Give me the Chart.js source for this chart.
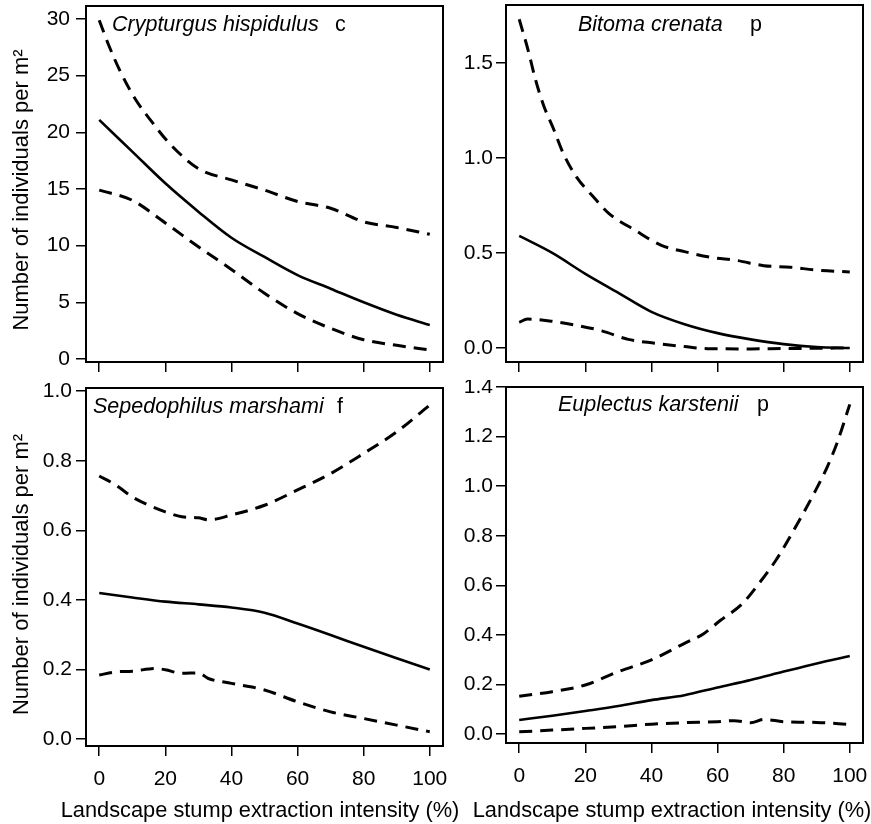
<!DOCTYPE html>
<html>
<head>
<meta charset="utf-8">
<script src="https://cdn.jsdelivr.net/npm/chart.js@4.4.1/dist/chart.umd.min.js"></script>
<style>
  html, body { margin: 0; padding: 0; background: #fff; }
  #wrap { position: relative; width: 871px; height: 824px; }
  canvas { position: absolute; }
</style>
</head>
<body>
<div id="wrap">
  <canvas id="cTL" width="450" height="380" style="left:0;top:0"></canvas>
  <canvas id="cTR" width="421" height="380" style="left:450px;top:0"></canvas>
  <canvas id="cBR" width="421" height="444" style="left:450px;top:380px"></canvas>
  <canvas id="cBL" width="462" height="444" style="left:0;top:380px"></canvas>
</div>
<script>
const xTicks = [0, 20, 40, 60, 80, 100];
const xTitle = "Landscape stump extraction intensity (%)";
const yTitle = "Number of individuals per m\u00B2";

// Crypturgus hispidulus
const crypX = [0, 10, 20, 30, 40, 50, 60, 70, 80, 90, 100];
const crypFit = [21.1, 18.3, 15.5, 13.0, 10.7, 9.0, 7.4, 6.2, 5.0, 3.9, 3.0];
const crypUpX = [0, 3, 6.5, 11, 16, 21, 30, 40, 50, 60, 70, 80, 90, 100];
const crypUp = [29.9, 27.6, 25.3, 22.9, 20.9, 19.1, 16.8, 15.8, 14.9, 13.9, 13.3, 12.1, 11.6, 11.0];
const crypLoX = [0, 10, 20, 30, 40, 50, 60, 70, 80, 90, 100];
const crypLo = [14.9, 14.0, 12.0, 9.9, 7.9, 5.8, 4.0, 2.7, 1.7, 1.2, 0.8];
const crypTicks = [0, 5, 10, 15, 20, 25, 30];

// Bitoma crenata
const bitoX = [0, 10, 20, 30, 40, 50, 60, 70, 80, 90, 100];
const bitoFit = [0.59, 0.5, 0.39, 0.29, 0.19, 0.125, 0.078, 0.045, 0.02, 0.005, 0.0];
const bitoUpX = [0, 2.8, 4.8, 7.3, 10.3, 13.3, 17.3, 22.2, 27, 35, 43, 50, 58, 66, 74, 82, 90, 100];
const bitoUp = [1.73, 1.56, 1.42, 1.28, 1.156, 1.025, 0.9, 0.8, 0.71, 0.62, 0.54, 0.507, 0.477, 0.46, 0.433, 0.425, 0.41, 0.4];
const bitoLoX = [0, 2.5, 10, 17, 25, 33, 41, 50, 57, 70, 80, 90, 100];
const bitoLo = [0.135, 0.152, 0.14, 0.12, 0.09, 0.045, 0.025, 0.007, -0.004, -0.005, -0.003, -0.002, 0.0];
const bitoTicks = [0, 0.5, 1.0, 1.5];

// Sepedophilus marshami
const sepeX = [0, 10, 20, 30, 40, 50, 60, 70, 80, 90, 100];
const sepeFit = [0.42, 0.407, 0.395, 0.387, 0.378, 0.363, 0.332, 0.299, 0.265, 0.232, 0.2];
const sepeUpX = [0, 5, 10, 15, 20, 25, 30, 33, 40, 50, 60, 70, 80, 90, 100];
const sepeUp = [0.756, 0.73, 0.696, 0.672, 0.653, 0.639, 0.636, 0.63, 0.644, 0.672, 0.716, 0.763, 0.821, 0.883, 0.96];
const sepeLoX = [0, 5, 10, 17, 20, 25, 30, 33, 40, 50, 60, 70, 80, 90, 100];
const sepeLo = [0.184, 0.193, 0.195, 0.203, 0.199, 0.189, 0.19, 0.174, 0.16, 0.141, 0.107, 0.078, 0.059, 0.04, 0.021];
const sepeTicks = [0, 0.2, 0.4, 0.6, 0.8, 1.0];

// Euplectus karstenii
const euplX = [0, 10, 20, 30, 40, 50, 60, 70, 80, 90, 100];
const euplFit = [0.057, 0.074, 0.093, 0.113, 0.137, 0.157, 0.188, 0.218, 0.252, 0.285, 0.315];
const euplUpX = [0, 10, 20, 30, 40, 50, 55.8, 60.9, 67.5, 72.5, 77.6, 82.1, 86.2, 89.7, 93.2, 96.3, 100];
const euplUp = [0.153, 0.171, 0.198, 0.252, 0.299, 0.366, 0.405, 0.459, 0.526, 0.607, 0.7, 0.8, 0.897, 0.984, 1.078, 1.18, 1.33];
const euplLoX = [0, 10, 20, 30, 40, 50, 60, 65, 70, 74, 80, 90, 100];
const euplLo = [0.009, 0.016, 0.023, 0.03, 0.04, 0.046, 0.05, 0.054, 0.046, 0.059, 0.05, 0.047, 0.039];
const euplTicks = [0, 0.2, 0.4, 0.6, 0.8, 1.0, 1.2, 1.4];

const FONT = "'Liberation Sans', Arial, sans-serif";
const pts = (xs, ys) => xs.map((x, i) => ({ x, y: ys[i] }));

const line = (data, dashed) => ({
  data,
  borderColor: "#000",
  borderWidth: dashed ? 3 : 2.6,
  borderDash: dashed ? [13, 8] : [],
  pointRadius: 0,
  fill: false,
  cubicInterpolationMode: "monotone",
});

// drop the extra room chart.js keeps for edge labels, so the plot box lands where we want it
const noPad = (s) => {
  s.paddingTop = 0;
  s.paddingBottom = 0;
  s.paddingLeft = 0;
  s.paddingRight = 0;
};

function makePanel(id, p) {
  const ctx = document.getElementById(id).getContext("2d");
  const boxPlugin = {
    id: "box",
    afterDraw(chart) {
      const { ctx, chartArea: a } = chart;
      ctx.save();
      ctx.strokeStyle = "#000";
      ctx.lineWidth = 2;
      ctx.strokeRect(a.left, a.top, a.right - a.left, a.bottom - a.top);
      ctx.fillStyle = "#000";
      ctx.textBaseline = "middle";
      ctx.font = "italic 21.5px " + FONT;
      ctx.fillText(p.species, a.left + p.nameX, a.top + p.nameY);
      ctx.font = "21.5px " + FONT;
      ctx.fillText(p.code, a.left + p.codeX, a.top + p.nameY);
      // axis titles (the original sits them slightly off centre)
      ctx.textAlign = "center";
      ctx.textBaseline = "alphabetic";
      if (p.showX) {
        ctx.font = "21.8px " + FONT;
        ctx.fillText(xTitle, (a.left + a.right) / 2 + p.xShift, chart.height - 7);
      }
      if (p.showY) {
        ctx.font = "22px " + FONT;
        ctx.translate(28, (a.top + a.bottom) / 2 + p.yShift);
        ctx.rotate(-Math.PI / 2);
        ctx.fillText(yTitle, 0, 0);
      }
      ctx.restore();
    },
  };
  return new Chart(ctx, {
    type: "line",
    data: {
      datasets: [
        line(pts(p.fitX, p.fit), false),
        line(pts(p.upX, p.up), true),
        line(pts(p.loX, p.lo), true),
      ],
    },
    plugins: [boxPlugin],
    options: {
      responsive: false,
      animation: false,
      layout: { padding: { top: p.padTop, right: p.padRight, left: 0, bottom: 0 } },
      plugins: { legend: { display: false }, tooltip: { enabled: false } },
      scales: {
        x: {
          type: "linear",
          min: -4,
          max: 104,
          afterBuildTicks: (s) => { s.ticks = xTicks.map((v) => ({ value: v })); },
          afterFit: (s) => { s.height = p.xHeight; noPad(s); },
          grid: { drawOnChartArea: false, drawTicks: true, tickLength: 10, color: "#000", lineWidth: 1.5 },
          border: { display: false },
          ticks: {
            display: p.showX,
            color: "#000",
            padding: 11,
            maxRotation: 0,
            font: { family: FONT, size: 21 },
          },
        },
        y: {
          type: "linear",
          min: p.yMin,
          max: p.yMax,
          afterBuildTicks: (s) => { s.ticks = p.yTicks.map((v) => ({ value: v })); },
          afterFit: (s) => { s.width = p.yWidth; noPad(s); },
          grid: { drawOnChartArea: false, drawTicks: true, tickLength: 10, color: "#000", lineWidth: 1.5 },
          border: { display: false },
          ticks: {
            color: "#000",
            padding: p.yPad,
            font: { family: FONT, size: 21 },
            callback: (v) => v.toFixed(p.dec),
          },
        },
      },
    },
  });
}

makePanel("cTL", {
  species: "Crypturgus hispidulus", code: "c", nameX: 26, codeX: 249, nameY: 19,
  fitX: crypX, fit: crypFit, upX: crypUpX, up: crypUp, loX: crypLoX, lo: crypLo,
  yTicks: crypTicks, yMin: -0.27, yMax: 31.15, dec: 0,
  padTop: 6, padRight: 7, yWidth: 86, xHeight: 18, yPad: 6, showX: false, showY: true, yShift: 6,
});
makePanel("cTR", {
  species: "Bitoma crenata", code: "p", nameX: 72, codeX: 244, nameY: 20,
  fitX: bitoX, fit: bitoFit, upX: bitoUpX, up: bitoUp, loX: bitoLoX, lo: bitoLo,
  yTicks: bitoTicks, yMin: -0.074, yMax: 1.805, dec: 1,
  padTop: 5, padRight: 8, yWidth: 56, xHeight: 18, yPad: 3, showX: false, showY: false,
});
makePanel("cBL", {
  species: "Sepedophilus marshami", code: "f", nameX: 7, codeX: 251, nameY: 19,
  fitX: sepeX, fit: sepeFit, upX: sepeUpX, up: sepeUp, loX: sepeLoX, lo: sepeLo,
  yTicks: sepeTicks, yMin: -0.02, yMax: 1.009, dec: 1,
  padTop: 8, padRight: 19, yWidth: 86, xHeight: 78, yPad: 4, showX: true, showY: true,
  xShift: -4.5, yShift: 7.5,
});
makePanel("cBR", {
  species: "Euplectus karstenii", code: "p", nameX: 52, codeX: 251, nameY: 18,
  fitX: euplX, fit: euplFit, upX: euplUpX, up: euplUp, loX: euplLoX, lo: euplLo,
  yTicks: euplTicks, yMin: -0.036, yMax: 1.4, dec: 1,
  padTop: 7, padRight: 8, yWidth: 56, xHeight: 81, yPad: 3, showX: true, showY: false,
  xShift: -12.5,
});
</script>
</body>
</html>
